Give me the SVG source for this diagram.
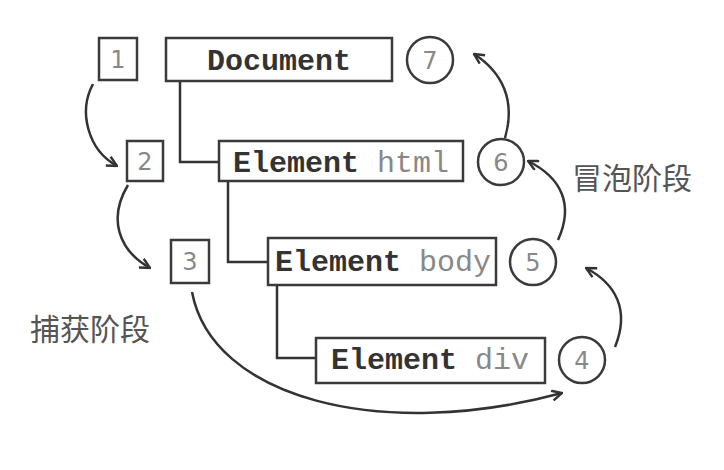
<svg xmlns="http://www.w3.org/2000/svg" width="724" height="470" viewBox="0 0 724 470">
<defs>
<marker id="arr" viewBox="0 0 12 12" refX="11" refY="6" markerWidth="12" markerHeight="12" markerUnits="userSpaceOnUse" orient="auto">
<path d="M1,1 L11,6 L1,11" fill="none" stroke="#333" stroke-width="2.4" stroke-linejoin="miter"/>
</marker>
<style>
.box{fill:#fff;stroke:#3a3a3a;stroke-width:2.5}
.tree{fill:none;stroke:#333;stroke-width:2.5}
.conn{fill:none;stroke:#333;stroke-width:2.5;marker-end:url(#arr)}
.mono{font-family:"Liberation Mono","DejaVu Sans Mono",monospace;font-size:30px}
.b{font-weight:bold;fill:#333}
.g{fill:#888}
.num{font-family:"DejaVu Sans","Liberation Sans",sans-serif;font-size:24px;fill:#888;text-anchor:middle}
.cjk{font-family:"Noto Sans CJK SC",sans-serif;font-size:30px;fill:#555}
</style>
</defs>
<rect width="724" height="470" fill="#fff"/>
<g id="tree-lines">
<path class="tree" d="M180 81 V162 H220"/>
<path class="tree" d="M228 181 V262 H268"/>
<path class="tree" d="M277 285 V358 H316"/>
</g>
<g id="document">
<rect class="box" x="166" y="38" width="226" height="43"/>
<text class="mono b" x="279" y="70" text-anchor="middle">Document</text>
</g>
<g id="html">
<rect class="box" x="219" y="141" width="244" height="40"/>
<text class="mono" x="341" y="172" text-anchor="middle"><tspan class="b">Element</tspan><tspan class="g"> html</tspan></text>
</g>
<g id="body">
<rect class="box" x="268" y="238" width="228" height="47"/>
<text class="mono" x="383" y="271" text-anchor="middle"><tspan class="b">Element</tspan><tspan class="g"> body</tspan></text>
</g>
<g id="div">
<rect class="box" x="316" y="338" width="229" height="45"/>
<text class="mono" x="430" y="369" text-anchor="middle"><tspan class="b">Element</tspan><tspan class="g"> div</tspan></text>
</g>
<g id="step1">
<rect class="box" x="99" y="38" width="38" height="42"/>
<text class="num" x="118" y="68">1</text>
</g>
<g id="step2">
<rect class="box" x="127" y="141" width="36" height="40"/>
<text class="num" x="145" y="170">2</text>
</g>
<g id="step3">
<rect class="box" x="171" y="240" width="38" height="43"/>
<text class="num" x="190" y="270">3</text>
</g>
<g id="step4">
<circle class="box" cx="582" cy="360" r="23"/>
<text class="num" x="582" y="369">4</text>
</g>
<g id="step5">
<circle class="box" cx="533" cy="262" r="23"/>
<text class="num" x="533" y="271">5</text>
</g>
<g id="step6">
<circle class="box" cx="501" cy="162" r="23"/>
<text class="num" x="501" y="171">6</text>
</g>
<g id="step7">
<circle class="box" cx="430" cy="60" r="23"/>
<text class="num" x="430" y="69">7</text>
</g>
<g id="connectors">
<path class="conn" d="M93 84 C78 112, 88 150, 117 166"/>
<path class="conn" d="M128 185 C108 218, 118 250, 150 268"/>
<path class="conn" d="M192 292 C212 398, 380 442, 562 393"/>
<path class="conn" d="M615 347 C630 310, 616 284, 586 268"/>
<path class="conn" d="M558 240 C574 205, 562 178, 528 161"/>
<path class="conn" d="M505 138 C516 100, 502 72, 474 54"/>
</g>
<g id="labels">
<text class="cjk" x="572" y="189">冒泡阶段</text>
<text class="cjk" x="30" y="340">捕获阶段</text>
</g>
</svg>
